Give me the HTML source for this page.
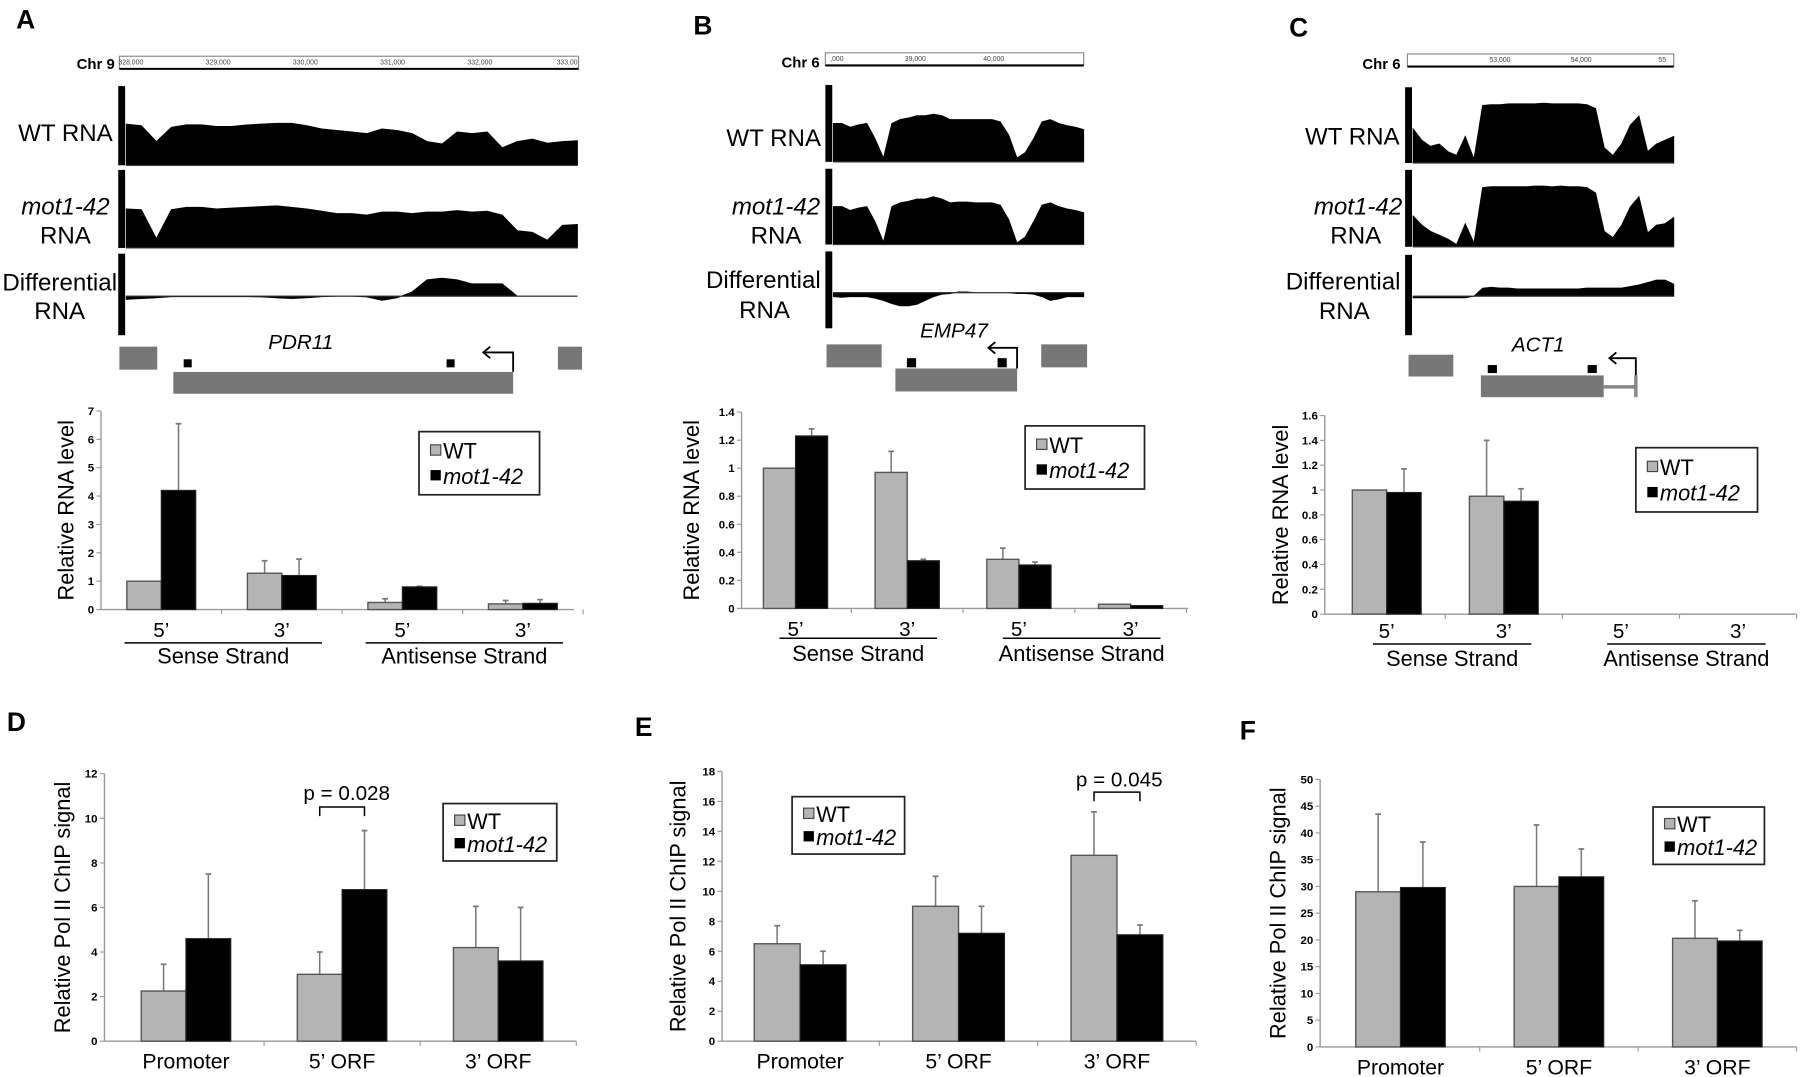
<!DOCTYPE html>
<html><head><meta charset="utf-8">
<style>
html,body{margin:0;padding:0;background:#fff;}
svg{display:block;font-family:"Liberation Sans",Arial,sans-serif;}
</style></head>
<body>
<svg id="fig" xmlns="http://www.w3.org/2000/svg" width="1800" height="1077" viewBox="0 0 1568 938.2" preserveAspectRatio="none">
<rect x="0" y="0" width="1568" height="939" fill="#fff"/>
</svg>
<script>
// ---------- bar chart data ----------
const aCats = ["5\u2019","3\u2019","5\u2019","3\u2019"];
const aWT = [1, 1.28, 0.25, 0.2];
const aWTErr = [0, 0.44, 0.13, 0.12];
const aMot = [4.2, 1.2, 0.8, 0.22];
const aMotErr = [2.35, 0.58, 0.02, 0.13];
const aTicks = [0,1,2,3,4,5,6,7];
const aTickLabels = ["0","1","2","3","4","5","6","7"];

const bCats = ["5\u2019","3\u2019","5\u2019","3\u2019"];
const bWT = [1, 0.97, 0.35, 0.03];
const bWTErr = [0, 0.15, 0.08, 0];
const bMot = [1.23, 0.34, 0.31, 0.02];
const bMotErr = [0.05, 0.01, 0.02, 0];
const bTicks = [0,0.2,0.4,0.6,0.8,1,1.2,1.4];
const bTickLabels = ["0","0.2","0.4","0.6","0.8","1","1.2","1.4"];

const cCats = ["5\u2019","3\u2019","5\u2019","3\u2019"];
const cWT = [1, 0.95, 0, 0];
const cWTErr = [0, 0.45, 0, 0];
const cMot = [0.98, 0.91, 0, 0];
const cMotErr = [0.19, 0.1, 0, 0];
const cTicks = [0,0.2,0.4,0.6,0.8,1,1.2,1.4,1.6];
const cTickLabels = ["0","0.2","0.4","0.6","0.8","1","1.2","1.4","1.6"];

const strandGroups = ["Sense Strand","Antisense Strand"];

const dCats = ["Promoter","5\u2019 ORF","3\u2019 ORF"];
const dWT = [2.25, 3.0, 4.2];
const dWTErr = [1.2, 1.0, 1.85];
const dMot = [4.6, 6.8, 3.6];
const dMotErr = [2.9, 2.65, 2.4];
const dTicks = [0,2,4,6,8,10,12];
const dTickLabels = ["0","2","4","6","8","10","12"];

const eCats = ["Promoter","5\u2019 ORF","3\u2019 ORF"];
const eWT = [6.5, 9.0, 12.4];
const eWTErr = [1.2, 2.0, 2.9];
const eMot = [5.1, 7.2, 7.1];
const eMotErr = [0.9, 1.8, 0.65];
const eTicks = [0,2,4,6,8,10,12,14,16,18];
const eTickLabels = ["0","2","4","6","8","10","12","14","16","18"];

const fCats = ["Promoter","5\u2019 ORF","3\u2019 ORF"];
const fWT = [29, 30, 20.3];
const fWTErr = [14.5, 11.5, 7];
const fMot = [29.8, 31.8, 19.8];
const fMotErr = [8.5, 5.2, 2];
const fTicks = [0,5,10,15,20,25,30,35,40,45,50];
const fTickLabels = ["0","5","10","15","20","25","30","35","40","45","50"];

// ---------- coverage track data (fraction of track height) ----------
const aWTCov = [0.52,0.5,0.3,0.48,0.51,0.51,0.49,0.49,0.51,0.52,0.53,0.53,0.5,0.46,0.44,0.42,0.4,0.46,0.44,0.4,0.3,0.27,0.42,0.4,0.42,0.22,0.3,0.33,0.28,0.3,0.31];
const aMotCov = [0.5,0.49,0.12,0.49,0.52,0.52,0.5,0.51,0.52,0.53,0.54,0.52,0.5,0.47,0.44,0.44,0.42,0.46,0.46,0.44,0.46,0.46,0.48,0.46,0.47,0.42,0.22,0.2,0.1,0.29,0.3];
const aDiffCov = [-0.04,-0.03,-0.02,-0.005,-0.005,-0.005,-0.005,-0.005,-0.005,-0.01,-0.02,-0.03,-0.02,-0.005,0,0,-0.01,-0.05,-0.02,0.05,0.2,0.22,0.2,0.15,0.15,0.15,0,0,0,0,0];
const bWTCov = [0.5,0.5,0.45,0.48,0.5,0.3,0.05,0.5,0.55,0.57,0.6,0.6,0.62,0.6,0.55,0.55,0.55,0.55,0.55,0.55,0.52,0.35,0.05,0.12,0.3,0.52,0.55,0.5,0.47,0.45,0.42];
const bMotCov = [0.5,0.5,0.45,0.48,0.5,0.3,0.03,0.5,0.55,0.57,0.6,0.6,0.63,0.6,0.55,0.56,0.56,0.55,0.55,0.55,0.52,0.33,0.02,0.1,0.3,0.52,0.55,0.5,0.47,0.45,0.42];
const bDiffCov = [-0.05,-0.06,-0.05,-0.05,-0.05,-0.07,-0.1,-0.14,-0.17,-0.17,-0.15,-0.1,-0.05,-0.02,-0.01,0.01,0.01,0,0,0,0,0,-0.01,-0.01,-0.02,-0.05,-0.1,-0.08,-0.05,-0.05,-0.05];
const cWTCov = [0.45,0.3,0.22,0.25,0.15,0.1,0.35,0.05,0.76,0.77,0.77,0.78,0.78,0.78,0.78,0.79,0.78,0.78,0.78,0.78,0.77,0.72,0.2,0.1,0.25,0.5,0.62,0.15,0.25,0.3,0.35];
const cMotCov = [0.4,0.28,0.2,0.15,0.1,0.03,0.3,0.05,0.77,0.78,0.78,0.78,0.78,0.78,0.79,0.79,0.78,0.79,0.78,0.78,0.77,0.7,0.2,0.12,0.28,0.52,0.65,0.18,0.28,0.3,0.38];
const cDiffCov = [-0.02,-0.02,-0.02,-0.02,-0.02,-0.02,-0.02,0,0.1,0.11,0.1,0.1,0.09,0.09,0.09,0.09,0.09,0.09,0.09,0.09,0.1,0.1,0.1,0.1,0.1,0.12,0.14,0.17,0.2,0.2,0.15];

// ---------- helpers ----------
const NS = "http://www.w3.org/2000/svg";
const svg = document.getElementById("fig");
function mk(tag, attrs, name, inter, parent){
  const el = document.createElementNS(NS, tag);
  for (const k in attrs) el.setAttribute(k, attrs[k]);
  
  
  (parent || svg).appendChild(el);
  return el;
}
function txt(x, y, s, size, name, extra, parent){
  const a = {x:x, y:y, 'font-size':size, fill:'#000'};
  if (extra) for (const k in extra) a[k] = extra[k];
  const t = mk('text', a, name, false, parent);
  t.textContent = s;
  return t;
}

// ---------- bar chart ----------
function barChart(id, L, cats, wt, wtErr, mot, motErr, ticks, tickLabels, title){
  const g = mk('g', {}, id + '-chart', false);
  const vmax = ticks[ticks.length-1];
  const yS = v => L.y0 - (L.y0 - L.yTop) * v / vmax;
  const xC = i => L.ax + L.off + i * L.sp;
  mk('line', {x1:L.ax, y1:L.yTop, x2:L.ax, y2:L.y0, stroke:'#999', 'stroke-width':1.2}, id + '-y-axis', false, g);
  mk('line', {x1:L.ax, y1:L.y0, x2:L.xEnd, y2:L.y0, stroke:'#999', 'stroke-width':1.2}, id + '-x-axis', false, g);
  ticks.forEach((v, i) => {
    mk('line', {x1:L.ax-4, y1:yS(v), x2:L.ax, y2:yS(v), stroke:'#999', 'stroke-width':1}, id + '-y-tick', false, g);
    txt(L.ax-6, yS(v)+3.5, tickLabels[i], 10, id + '-y-tick-label', {'text-anchor':'end','font-weight':'bold'}, g);
  });
  for (let i = 1; i <= cats.length; i++) {
    const xb = L.ax + i * L.sp + (L.off - L.sp/2);
    mk('line', {x1:xb, y1:L.y0, x2:xb, y2:L.y0+4, stroke:'#999', 'stroke-width':1}, id + '-x-tick', false, g);
  }
  cats.forEach((c, i) => {
    const cx = xC(i);
    const hW = L.y0 - yS(wt[i]);
    const hM = L.y0 - yS(mot[i]);
    if (wtErr[i] > 0) {
      mk('line', {x1:cx-L.bw/2, y1:yS(wt[i]+wtErr[i]), x2:cx-L.bw/2, y2:yS(wt[i]), stroke:'#777', 'stroke-width':1.3}, id + '-wt-error-bar', false, g);
      mk('line', {x1:cx-L.bw/2-2.5, y1:yS(wt[i]+wtErr[i]), x2:cx-L.bw/2+2.5, y2:yS(wt[i]+wtErr[i]), stroke:'#777', 'stroke-width':1.5}, id + '-wt-error-cap', false, g);
    }
    if (motErr[i] > 0) {
      mk('line', {x1:cx+L.bw/2, y1:yS(mot[i]+motErr[i]), x2:cx+L.bw/2, y2:yS(mot[i]), stroke:'#777', 'stroke-width':1.3}, id + '-mot-error-bar', false, g);
      mk('line', {x1:cx+L.bw/2-2.5, y1:yS(mot[i]+motErr[i]), x2:cx+L.bw/2+2.5, y2:yS(mot[i]+motErr[i]), stroke:'#777', 'stroke-width':1.5}, id + '-mot-error-cap', false, g);
    }
    if (hW > 0.5) mk('rect', {x:cx-L.bw, y:yS(wt[i]), width:L.bw, height:hW, fill:'#b4b4b4', stroke:'#555', 'stroke-width':1.2}, id + '-bar-wt-' + i, false, g);
    if (hM > 0.5) mk('rect', {x:cx, y:yS(mot[i]), width:L.bw, height:hM, fill:'#000', stroke:'#222', 'stroke-width':1}, id + '-bar-mot-' + i, false, g);
    txt(cx + (L.labDx||0), L.catY, c, L.catSize, id + '-category-label', {'text-anchor':'middle'}, g);
  });
  const ty = (L.y0 + L.yTop) / 2 + (L.titleDy||0);
  txt(L.titleX, ty, title, 19, id + '-y-axis-title', {'text-anchor':'middle', transform:'rotate(-90 ' + L.titleX + ' ' + ty + ')'}, g);
  const lg = mk('g', {}, id + '-legend', false, g);
  mk('rect', {x:L.lx, y:L.ly, width:L.lw, height:L.lh, fill:'#fff', stroke:'#222', 'stroke-width':1.5}, id + '-legend-box', false, lg);
  mk('rect', {x:L.lx+10, y:L.ly+L.lh*0.3-5, width:9, height:9, fill:'#b4b4b4', stroke:'#444', 'stroke-width':1}, id + '-legend-wt-swatch', false, lg);
  txt(L.lx+21, L.ly+L.lh*0.3+7, 'WT', 19, id + '-legend-wt-label', null, lg);
  mk('rect', {x:L.lx+10, y:L.ly+L.lh*0.7-5, width:9, height:9, fill:'#000'}, id + '-legend-mot-swatch', false, lg);
  txt(L.lx+21, L.ly+L.lh*0.7+7, 'mot1-42', 19, id + '-legend-mot-label', {'font-style':'italic'}, lg);
  return {xC:xC, yS:yS, g:g};
}
function strands(id, ch, L){
  strandGroups.forEach((s, k) => {
    const x1 = ch.xC(2*k) + L.sl, x2 = ch.xC(2*k+1) + L.sr;
    mk('line', {x1:x1, y1:L.lineY, x2:x2, y2:L.lineY, stroke:'#000', 'stroke-width':1.3}, id + '-strand-underline', false, ch.g);
    txt((x1+x2)/2, L.strY, s, 19, id + '-strand-label', {'text-anchor':'middle'}, ch.g);
  });
}

// ---------- coverage tracks ----------
function track(id, x0, x1, yTop, yBot, vals, baselineY, name){
  const g = mk('g', {}, name, false);
  mk('rect', {x:x0-7, y:yTop, width:6, height:yBot-yTop, fill:'#000'}, name + '-scale-bar', false, g);
  const n = vals.length - 1;
  const h = yBot - yTop;
  const base = baselineY;
  let d = 'M' + x0 + ' ' + base;
  vals.forEach((v, i) => {
    const x = x0 + (x1 - x0) * i / n;
    d += ' L' + x.toFixed(1) + ' ' + (base - v * h).toFixed(1);
  });
  d += ' L' + x1 + ' ' + base + ' Z';
  mk('path', {d:d, fill:'#000', stroke:'#000', 'stroke-width':0.8}, name + '-coverage', false, g);
  mk('line', {x1:x0, y1:base, x2:x1, y2:base, stroke:'#333', 'stroke-width':1}, name + '-baseline', false, g);
  return g;
}
function ruler(id, x0, x1, y, labels){
  const g = mk('g', {}, id + '-ruler', false);
  mk('rect', {x:x0, y:y, width:x1-x0, height:11, fill:'#fff', stroke:'#888', 'stroke-width':1}, id + '-ruler-box', false, g);
  mk('line', {x1:x0, y1:y+11, x2:x1, y2:y+11, stroke:'#000', 'stroke-width':1.8}, id + '-ruler-line', false, g);
  labels.forEach((s, i) => {
    const x = x0 + 10 + (x1 - x0 - 20) * i / (labels.length - 1);
    txt(x, y+7, s, 6, id + '-ruler-label', {'text-anchor':'middle', fill:'#444'}, g);
  });
}

// ---------- panel letters ----------
[['A',14,25],['B',604,30],['C',1123,32],['D',6,637],['E',553,641],['F',1080,644]].forEach(p => {
  txt(p[1], p[2], p[0], 23, 'panel-label-' + p[0].toLowerCase(), {'font-weight':'bold'});
});

// ---------- Panel A tracks ----------
txt(100, 60, 'Chr 9', 13, 'a-chromosome-label', {'text-anchor':'end','font-weight':'bold'});
ruler('a', 104, 504, 49, ['328,000','329,000','330,000','331,000','332,000','333,00']);
track('a', 110, 503, 75, 144, aWTCov, 144, 'a-wt-track');
track('a', 110, 503, 148, 216, aMotCov, 216, 'a-mot-track');
track('a', 110, 503, 221, 292, aDiffCov, 258, 'a-diff-track');
txt(57, 123, 'WT RNA', 21, 'a-wt-track-label', {'text-anchor':'middle'});
txt(57, 187, 'mot1-42', 21, 'a-mot-track-label', {'text-anchor':'middle','font-style':'italic'});
txt(57, 212, 'RNA', 21, 'a-mot-track-label-2', {'text-anchor':'middle'});
txt(52, 253, 'Differential', 21, 'a-diff-track-label', {'text-anchor':'middle'});
txt(52, 278, 'RNA', 21, 'a-diff-track-label-2', {'text-anchor':'middle'});
txt(262, 304, 'PDR11', 18, 'a-gene-name', {'text-anchor':'middle','font-style':'italic'});
mk('rect', {x:104, y:302, width:33, height:20, fill:'#777'}, 'a-neighbor-gene-left', false);
mk('rect', {x:486, y:302, width:21, height:20, fill:'#777'}, 'a-neighbor-gene-right', false);
mk('rect', {x:151, y:324, width:296, height:19, fill:'#777'}, 'a-gene-body', false);
mk('rect', {x:160, y:313, width:7, height:7, fill:'#000'}, 'a-primer-5', false);
mk('rect', {x:389, y:313, width:7, height:7, fill:'#000'}, 'a-primer-3', false);
mk('path', {d:'M447 324 V307 H421 M427 302 L421 307 L427 312', fill:'none', stroke:'#000', 'stroke-width':1.6}, 'a-tss-arrow', false);

// ---------- Panel B tracks ----------
txt(714, 59, 'Chr 6', 13, 'b-chromosome-label', {'text-anchor':'end','font-weight':'bold'});
ruler('b', 719, 944, 46, [',000','39,000','40,000','']);
track('b', 726, 944, 74, 141, bWTCov, 141, 'b-wt-track');
track('b', 726, 944, 147, 213, bMotCov, 213, 'b-mot-track');
track('b', 726, 944, 219, 286, bDiffCov, 255, 'b-diff-track');
txt(674, 127, 'WT RNA', 21, 'b-wt-track-label', {'text-anchor':'middle'});
txt(676, 187, 'mot1-42', 21, 'b-mot-track-label', {'text-anchor':'middle','font-style':'italic'});
txt(676, 212, 'RNA', 21, 'b-mot-track-label-2', {'text-anchor':'middle'});
txt(665, 251, 'Differential', 21, 'b-diff-track-label', {'text-anchor':'middle'});
txt(666, 277, 'RNA', 21, 'b-diff-track-label-2', {'text-anchor':'middle'});
txt(831, 294, 'EMP47', 18, 'b-gene-name', {'text-anchor':'middle','font-style':'italic'});
mk('rect', {x:720, y:300, width:48, height:20, fill:'#777'}, 'b-neighbor-gene-left', false);
mk('rect', {x:907, y:300, width:40, height:20, fill:'#777'}, 'b-neighbor-gene-right', false);
mk('rect', {x:780, y:321, width:106, height:20, fill:'#777'}, 'b-gene-body', false);
mk('rect', {x:790, y:312, width:8, height:8, fill:'#000'}, 'b-primer-5', false);
mk('rect', {x:869, y:312, width:8, height:8, fill:'#000'}, 'b-primer-3', false);
mk('path', {d:'M886 321 V303 H861 M867 298 L861 303 L867 308', fill:'none', stroke:'#000', 'stroke-width':1.6}, 'b-tss-arrow', false);

// ---------- Panel C tracks ----------
txt(1220, 60, 'Chr 6', 13, 'c-chromosome-label', {'text-anchor':'end','font-weight':'bold'});
ruler('c', 1226, 1458, 47, ['','53,000','54,000','55']);
track('c', 1231, 1458, 76, 142, cWTCov, 142, 'c-wt-track');
track('c', 1231, 1458, 148, 215, cMotCov, 215, 'c-mot-track');
track('c', 1231, 1458, 222, 292, cDiffCov, 258, 'c-diff-track');
txt(1178, 126, 'WT RNA', 21, 'c-wt-track-label', {'text-anchor':'middle'});
txt(1183, 187, 'mot1-42', 21, 'c-mot-track-label', {'text-anchor':'middle','font-style':'italic'});
txt(1181, 212, 'RNA', 21, 'c-mot-track-label-2', {'text-anchor':'middle'});
txt(1170, 252, 'Differential', 21, 'c-diff-track-label', {'text-anchor':'middle'});
txt(1171, 278, 'RNA', 21, 'c-diff-track-label-2', {'text-anchor':'middle'});
txt(1340, 306, 'ACT1', 18, 'c-gene-name', {'text-anchor':'middle','font-style':'italic'});
mk('rect', {x:1227, y:309, width:39, height:19, fill:'#777'}, 'c-neighbor-gene-left', false);
mk('rect', {x:1290, y:327, width:107, height:19, fill:'#777'}, 'c-gene-body', false);
mk('line', {x1:1397, y1:337, x2:1425, y2:337, stroke:'#888', 'stroke-width':3}, 'c-gene-intron', false);
mk('line', {x1:1425, y1:327, x2:1425, y2:346, stroke:'#888', 'stroke-width':3}, 'c-gene-end', false);
mk('rect', {x:1296, y:318, width:8, height:7, fill:'#000'}, 'c-primer-5', false);
mk('rect', {x:1383, y:318, width:8, height:7, fill:'#000'}, 'c-primer-3', false);
mk('path', {d:'M1425 327 V312 H1402 M1408 307 L1402 312 L1408 317', fill:'none', stroke:'#000', 'stroke-width':1.6}, 'c-tss-arrow', false);

// ---------- Bar charts ----------
const LA = {ax:88, off:52.5, sp:105, bw:30, y0:531, yTop:358, xEnd:500, catY:555, catSize:18, titleX:64,
  lx:365, ly:376, lw:105, lh:55, lineY:560, strY:578, sl:-32, sr:35};
const chA = barChart('a', LA, aCats, aWT, aWTErr, aMot, aMotErr, aTicks, aTickLabels, 'Relative RNA level');
strands('a', chA, LA);

const LB = {ax:646, off:47, sp:97.3, bw:28, y0:530, yTop:359, xEnd:1035, catY:554, catSize:18, titleX:609,
  lx:893, ly:371, lw:104, lh:55, lineY:556, strY:576, sl:-14, sr:26};
const chB = barChart('b', LB, bCats, bWT, bWTErr, bMot, bMotErr, bTicks, bTickLabels, 'Relative RNA level');
strands('b', chB, LB);

const LC = {ax:1154, off:54, sp:102, bw:30, y0:535, yTop:362, xEnd:1565, catY:556, catSize:18, titleX:1122,
  lx:1425, ly:390, lw:106, lh:56, lineY:561, strY:580, sl:-12, sr:24};
const chC = barChart('c', LC, cCats, cWT, cWTErr, cMot, cMotErr, cTicks, cTickLabels, 'Relative RNA level');
strands('c', chC, LC);

const LD = {ax:91, off:71, sp:136, bw:39, y0:907, yTop:674, xEnd:502, catY:931, catSize:18.5, titleX:61,
  lx:386, ly:700, lw:99, lh:50};
const chD = barChart('d', LD, dCats, dWT, dWTErr, dMot, dMotErr, dTicks, dTickLabels, 'Relative Pol II ChIP signal');
txt(302, 697, 'p = 0.028', 18, 'd-p-value', {'text-anchor':'middle'});
mk('path', {d:'M' + (chD.xC(1)-LD.bw/2) + ' 711 V703 H' + (chD.xC(1)+LD.bw/2) + ' V711', fill:'none', stroke:'#000', 'stroke-width':1.3}, 'd-significance-bracket', false);

const LE = {ax:629, off:68, sp:138, bw:40, y0:907, yTop:672, xEnd:1042, catY:931, catSize:18.5, titleX:597,
  lx:690, ly:694, lw:98, lh:50};
const chE = barChart('e', LE, eCats, eWT, eWTErr, eMot, eMotErr, eTicks, eTickLabels, 'Relative Pol II ChIP signal');
txt(975, 685, 'p = 0.045', 18, 'e-p-value', {'text-anchor':'middle'});
mk('path', {d:'M' + (chE.xC(2)-LE.bw/2) + ' 698 V690 H' + (chE.xC(2)+LE.bw/2) + ' V698', fill:'none', stroke:'#000', 'stroke-width':1.3}, 'e-significance-bracket', false);

const LF = {ax:1150, off:70, sp:138, bw:39, y0:912, yTop:679, xEnd:1565, catY:936, catSize:18.5, titleX:1120,
  lx:1440, ly:703, lw:97, lh:50};
barChart('f', LF, fCats, fWT, fWTErr, fMot, fMotErr, fTicks, fTickLabels, 'Relative Pol II ChIP signal');
</script>
</body></html>
